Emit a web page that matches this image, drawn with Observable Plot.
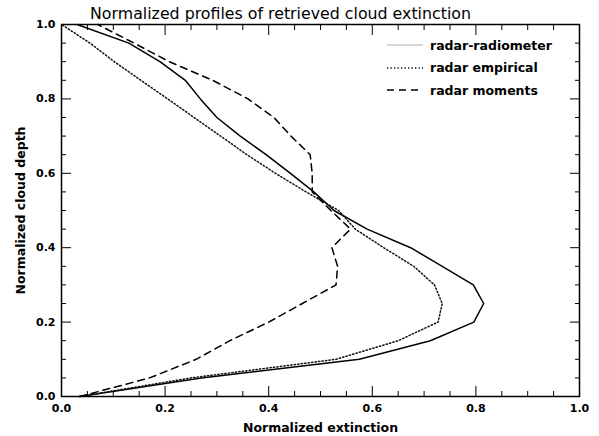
<!DOCTYPE html>
<html><head><meta charset="utf-8">
<script src="https://cdn.jsdelivr.net/npm/d3@7"></script>
<script src="https://cdn.jsdelivr.net/npm/@observablehq/plot@0.6"></script>
<style>
body{margin:0;background:#fff;}
#wrap{position:relative;width:599px;height:436px;}
.leg{position:absolute;left:387px;height:16px;display:flex;align-items:center;font:bold 12.5px "DejaVu Sans",sans-serif;color:#000;white-space:nowrap;}
.leg svg{display:block;margin-right:7px;}
</style></head><body><div id="wrap"></div>
<script>
const titleText = "Normalized profiles of retrieved cloud extinction";
const xLabel = "Normalized extinction";
const yLabel = "Normalized cloud depth";
const seriesNames = ["radar-radiometer", "radar empirical", "radar moments"];

const depth      = [0, 0.05, 0.10, 0.15, 0.20, 0.25, 0.30, 0.35, 0.40, 0.45, 0.50, 0.55, 0.60, 0.65, 0.70, 0.75, 0.80, 0.85, 0.90, 0.95, 1.00];
const radiometer = [0.035, 0.27, 0.575, 0.712, 0.796, 0.815, 0.795, 0.735, 0.674, 0.590, 0.526, 0.487, 0.442, 0.395, 0.345, 0.300, 0.268, 0.239, 0.190, 0.130, 0.030];
const empirical  = [0.035, 0.25, 0.530, 0.650, 0.727, 0.735, 0.720, 0.680, 0.622, 0.567, 0.535, 0.472, 0.413, 0.358, 0.307, 0.256, 0.205, 0.153, 0.102, 0.055, 0.000];
const moments    = [0.035, 0.17, 0.260, 0.325, 0.400, 0.465, 0.530, 0.533, 0.522, 0.558, 0.520, 0.484, 0.484, 0.480, 0.443, 0.410, 0.360, 0.292, 0.208, 0.140, 0.070];

const xTicks = [0, 0.2, 0.4, 0.6, 0.8, 1.0];
const yTicks = [0, 0.2, 0.4, 0.6, 0.8, 1.0];
const minorTicks = [0.05, 0.1, 0.15, 0.25, 0.3, 0.35, 0.45, 0.5, 0.55, 0.65, 0.7, 0.75, 0.85, 0.9, 0.95];

const rows = vals => depth.map((d, i) => ({depth: d, ext: vals[i]}));
const styles = [
  {stroke: "black", strokeWidth: 1.5, legendStroke: "#c8c8c8"},
  {stroke: "#111", strokeWidth: 1.5, strokeDasharray: "1.3,2.2", legendStroke: "#111"},
  {stroke: "black", strokeWidth: 1.5, strokeDasharray: "7,5", legendStroke: "black"}
];
const seriesVals = [radiometer, empirical, moments];

const F = '"DejaVu Sans", sans-serif';
const fmt = d3.format(".1f");
const blank = () => "";

const marks = [];
seriesVals.forEach((v, i) => {
  const s = styles[i];
  marks.push(Plot.line(rows(v), {x: "ext", y: "depth", stroke: s.stroke, strokeWidth: s.strokeWidth, strokeDasharray: s.strokeDasharray}));
});
marks.push(
  Plot.axisX({anchor: "bottom", ticks: xTicks, tickSize: 0, tickPadding: 8, tickFormat: fmt, label: null, fontSize: 11, fontWeight: "bold", fontFamily: F}),
  Plot.axisY({anchor: "left", ticks: yTicks, tickSize: 0, tickPadding: 6, tickFormat: fmt, label: null, fontSize: 11, fontWeight: "bold", fontFamily: F}),
  Plot.axisX({anchor: "bottom", ticks: xTicks, tickSize: -10, tickFormat: blank, label: null}),
  Plot.axisX({anchor: "top", ticks: xTicks, tickSize: -10, tickFormat: blank, label: null}),
  Plot.axisX({anchor: "bottom", ticks: minorTicks, tickSize: -5, tickFormat: blank, label: null}),
  Plot.axisX({anchor: "top", ticks: minorTicks, tickSize: -5, tickFormat: blank, label: null}),
  Plot.axisY({anchor: "left", ticks: yTicks, tickSize: -10, tickFormat: blank, label: null}),
  Plot.axisY({anchor: "right", ticks: yTicks, tickSize: -10, tickFormat: blank, label: null}),
  Plot.axisY({anchor: "left", ticks: minorTicks, tickSize: -5, tickFormat: blank, label: null}),
  Plot.axisY({anchor: "right", ticks: minorTicks, tickSize: -5, tickFormat: blank, label: null}),
  Plot.frame({stroke: "black", strokeWidth: 1.5}),
  Plot.text([titleText], {frameAnchor: "top", dx: -40, dy: -11, lineAnchor: "middle", textAnchor: "middle", fontSize: 15.8, fontFamily: F, fill: "black"}),
  Plot.text([xLabel], {frameAnchor: "bottom", dy: 31, lineAnchor: "middle", textAnchor: "middle", fontSize: 12.5, fontWeight: "bold", fontFamily: F, fill: "black"}),
  Plot.text([yLabel], {frameAnchor: "left", dx: -41, rotate: -90, lineAnchor: "middle", textAnchor: "middle", fontSize: 12.5, fontWeight: "bold", fontFamily: F, fill: "black"})
);

const chart = Plot.plot({
  width: 599, height: 436,
  marginLeft: 61, marginRight: 20, marginTop: 24, marginBottom: 40,
  x: {domain: [0, 1]},
  y: {domain: [0, 1]},
  style: {fontFamily: F, background: "white", color: "black"},
  marks
});
const wrap = document.getElementById("wrap");
wrap.appendChild(chart);

const rowCenters = [45, 67.5, 90];
seriesNames.forEach((name, i) => {
  const s = styles[i];
  const div = document.createElement("div");
  div.className = "leg";
  div.style.top = (rowCenters[i] - 8) + "px";
  div.innerHTML = `<svg width="36" height="10"><line x1="0" x2="36" y1="5" y2="5" stroke="${s.legendStroke}" stroke-width="${s.strokeWidth}" ${s.strokeDasharray ? `stroke-dasharray="${s.strokeDasharray}"` : ""}/></svg><span>${name}</span>`;
  wrap.appendChild(div);
});
</script></body></html>
